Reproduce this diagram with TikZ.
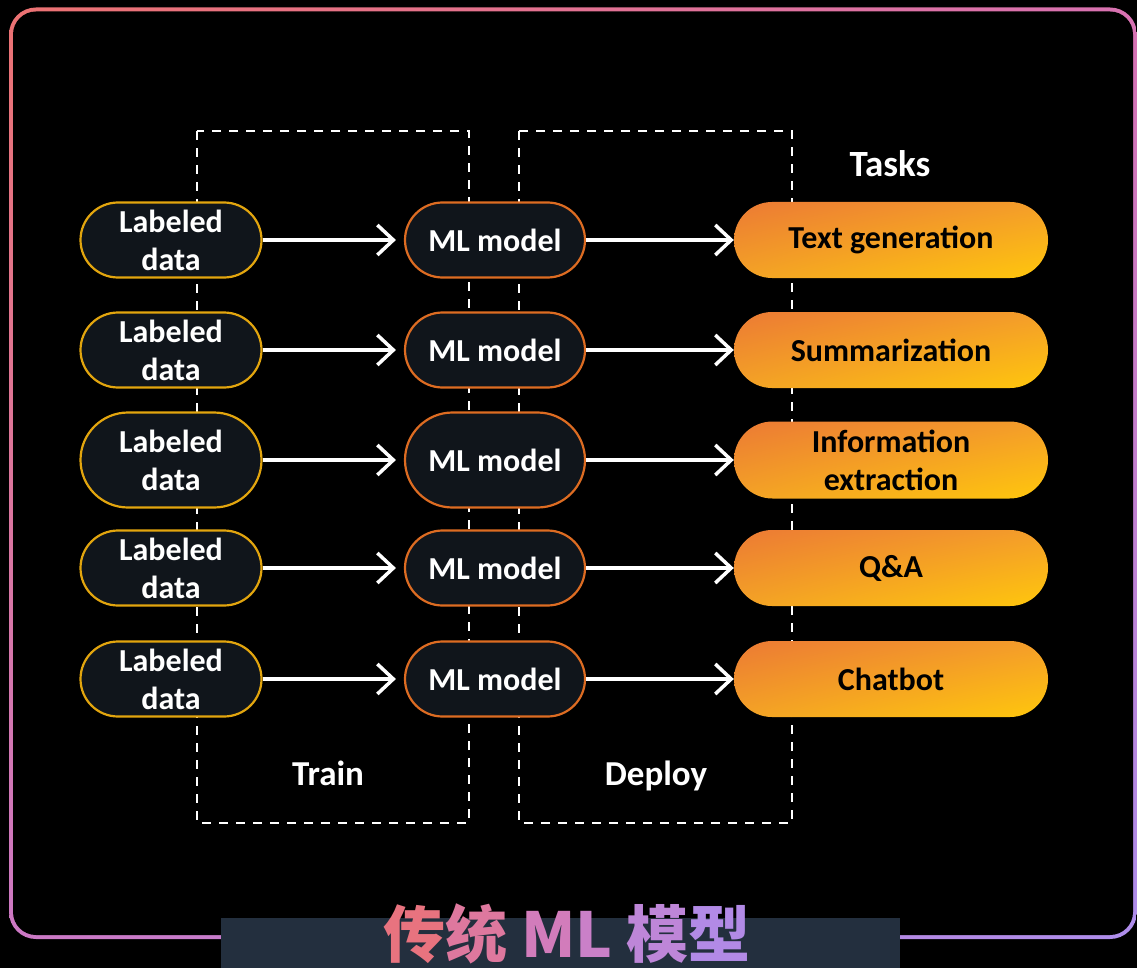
\documentclass[tikz,border=0pt]{standalone}
\usepackage{fontspec}
\setmainfont{Carlito}
\newfontfamily\cjk{Noto Sans CJK SC}
\usetikzlibrary{shapes.misc, arrows.meta, shadings}

\definecolor{nodefill}{HTML}{10151B}
\definecolor{datagold}{HTML}{E2A50E}
\definecolor{modelorange}{HTML}{DD6C22}
\definecolor{bandink}{HTML}{232F3E}
\definecolor{frameA}{HTML}{EC7272}
\definecolor{frameB}{HTML}{D872B2}
\definecolor{frameC}{HTML}{CC78C4}
\definecolor{frameD}{HTML}{AE8EEC}
\definecolor{taskA}{HTML}{EC7A34}
\definecolor{taskB}{HTML}{F49E2A}
\definecolor{taskC}{HTML}{F3A226}
\definecolor{taskD}{HTML}{FFC70C}
\definecolor{tA}{HTML}{E8737F}
\definecolor{tB}{HTML}{DE789E}
\definecolor{tC}{HTML}{D27CBB}
\definecolor{tD}{HTML}{CA80C8}
\definecolor{tE}{HTML}{BE86D8}
\definecolor{tF}{HTML}{B28AE6}

\tikzset{
  pill/.style={rounded rectangle, inner sep=0pt, line width=2.2pt, fill=nodefill,
    text=white, align=center, font=\bfseries\fontsize{32}{38}\selectfont},
  datanode/.style={pill, draw=datagold, minimum width=181pt, minimum height=75pt},
  modelnode/.style={pill, draw=modelorange, minimum width=180pt, minimum height=75pt},
  tasknode/.style={rounded rectangle, inner sep=0pt, minimum width=314pt, minimum height=76pt,
    upper left=taskA, upper right=taskB, lower left=taskC, lower right=taskD,
    text=black, align=center, font=\bfseries\fontsize{32}{38}\selectfont},
  flow/.style={draw=white, line width=3.5pt,
    -{Straight Barb[length=16pt, width=30pt, line width=3.5pt]}},
  stagebox/.style={draw=white, line width=2.5pt, dash pattern=on 9pt off 8pt},
  caption/.style={text=white, font=\bfseries\fontsize{35}{40}\selectfont},
}

\begin{document}
\begin{tikzpicture}[x=1pt, y=-1pt]
  % canvas
  \fill[black] (0,0) rectangle (1137,968);
  \useasboundingbox (0,0) rectangle (1137,968);

  % gradient frame: shaded outer shape, black interior
  \shade[upper left=frameA, upper right=frameB, lower left=frameC, lower right=frameD,
    rounded corners=27pt] (9,7.5) rectangle (1137,939);
  \fill[black, rounded corners=23pt] (13,11.5) rectangle (1133,935);

  % stage boxes
  \draw[stagebox] (197,131) rectangle (469,823);
  \draw[stagebox] (519,131) rectangle (792,823);

  % stage captions
  \node[caption, anchor=base] (train) at (328,785) {Train};
  \node[caption, anchor=base] (deploy) at (656,785) {Deploy};
  \node[caption, anchor=base, font=\bfseries\fontsize{37}{42}\selectfont] (tasks) at (890,177) {Tasks};

  % row 1
  \node[datanode] (d1) at (171,240) {Labeled\\data};
  \node[modelnode] (m1) at (495,240) {ML model};
  \node[tasknode] (t1) at (891,240) {Text generation};
  % row 2
  \node[datanode] (d2) at (171,350) {Labeled\\data};
  \node[modelnode] (m2) at (495,350) {ML model};
  \node[tasknode] (t2) at (891,350) {Summarization};
  % row 3
  \node[datanode, minimum height=95pt] (d3) at (171,460) {Labeled\\data};
  \node[modelnode, minimum height=95pt] (m3) at (495,460) {ML model};
  \node[tasknode, minimum height=77pt] (t3) at (891,460) {Information\\extraction};
  % row 4
  \node[datanode] (d4) at (171,568) {Labeled\\data};
  \node[modelnode] (m4) at (495,568) {ML model};
  \node[tasknode] (t4) at (891,568) {Q\&A};
  % row 5
  \node[datanode] (d5) at (171,679) {Labeled\\data};
  \node[modelnode] (m5) at (495,679) {ML model};
  \node[tasknode] (t5) at (891,679) {Chatbot};

  % connectors
  \foreach \i in {1,...,5} {
    \draw[flow, shorten >=8pt] (d\i.east) -- (m\i.west);
    \draw[flow] (m\i.east) -- (t\i.west);
  }

  % title band
  \fill[bandink] (221,918) rectangle (900,968);
  \node[anchor=base, inner sep=0pt, font=\cjk\bfseries\fontsize{62}{68}\selectfont] (title) at (567,957)
    {\textcolor{tA}{传}\textcolor{tB}{统} \textcolor{tC}{M}\textcolor{tD}{L} \textcolor{tE}{模}\textcolor{tF}{型}};
\end{tikzpicture}
\end{document}
